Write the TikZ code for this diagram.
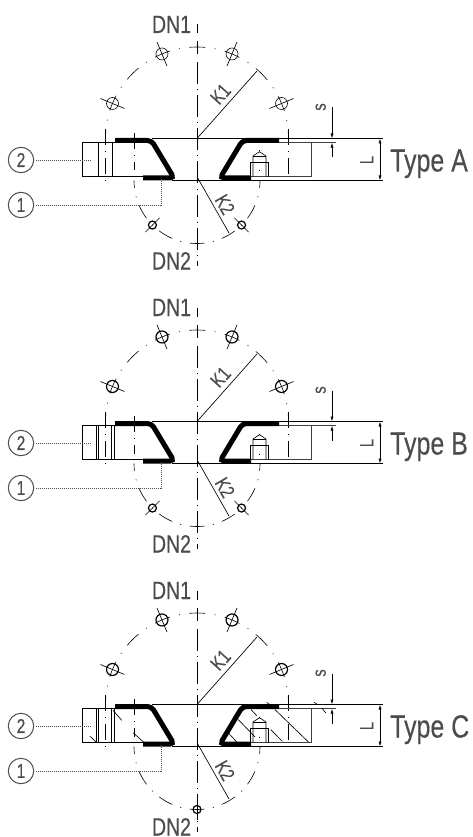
\documentclass[tikz,border=0pt]{standalone}
\usepackage{fontspec}
\setmainfont[FakeStretch=0.78,FakeBold=0.25]{Liberation Sans}
\usetikzlibrary{arrows.meta,calc}

\definecolor{textgray}{gray}{0.3}

\tikzset{
  txt/.style={inner sep=0pt, text=textgray, font=\fontsize{#1}{#1}\selectfont},
  numcircle/.style={circle, draw=textgray, line width=1pt, minimum size=25.4pt, inner sep=0pt, text=textgray, font=\fontsize{20}{20}\selectfont},
  thin line/.style={line width=0.65pt},
  profile/.style={line width=5pt, rounded corners=4pt},
  bigaxis/.style={line width=0.6pt, dash pattern=on 16pt off 9.43pt on 1pt off 9.43pt, dash phase=8pt},
  smallaxis/.style={line width=0.6pt, dash pattern=on 15pt off 8.5pt on 1pt off 8.5pt, dash phase=7.5pt},
  sideaxis/.style={line width=0.7pt, dash pattern=on 16pt off 6pt on 1pt off 6pt},
  midaxis/.style={line width=0.7pt, dash pattern=on 22pt off 5pt on 1pt off 5pt},
  leader/.style={line width=0.7pt, textgray, dash pattern=on 1pt off 1pt},
  dim/.style={line width=0.6pt, {Latex[length=5pt,width=3pt]}-{Latex[length=5pt,width=3pt]}},
  dimend/.style={line width=0.6pt, -{Latex[length=5pt,width=3pt]}},
}

\begin{document}
\begin{tikzpicture}[x=1pt, y=1pt]
  \useasboundingbox (0,0) rectangle (473,-837);

  \foreach \t/\dy/\holew/\rows/\low in {A/0/0.6/{-99,-84.3}/{225,315},
      B/283/1.2/{-101,-99,-86,-83}/{225,315},
      C/566/1.2/{-101,-99,-86,-83}/{270}} {
    \begin{scope}[shift={(197,-138.5-\dy)}]
      \coordinate (top\t) at (0,0);
      \coordinate (bot\t) at (0,-42);

      % bolt circles
      \draw[bigaxis] (91.5,0) arc[start angle=0, end angle=180, radius=91.5];
      \draw[smallaxis] ($(bot\t)+(-63,0)$) arc[start angle=180, end angle=360, radius=63];
      \draw[sideaxis] (-91.5,9.6) -- (-91.5,-44.5);
      \draw[sideaxis] (91.5,9.6) -- (91.5,-44.5);
      \draw[sideaxis] (-63,5.5) -- (-63,-32);
      \draw[line width=0.6pt, dash pattern=on 1pt off 19pt] (62.5,-12) -- (62.5,-33);
      \draw[midaxis] (0,76) -- (0,-127);
      \draw[line width=0.7pt] (0,114) -- (0,105);
      \draw[line width=0.7pt] (0,97) -- (0,84);

      \foreach \a in {22.5,67.5,112.5,157.5} {
        \draw[line width=\holew pt] (\a:91.5) circle (6);
        \draw[thin line] (\a:78.5) -- (\a:104.5);
      }
      \foreach \a in \low {
        \draw[line width=1.2pt] ($(bot\t)+(\a:63)$) circle (4);
        \draw[thin line] ($(bot\t)+(\a:53)$) -- ($(bot\t)+(\a:73)$);
      }

      % body
      \draw[thin line] (-82,-4.2) -- (-114.5,-4.2) -- (-114.5,-38.2) -- (-54,-38.2);
      \draw[thin line, black!75] (81,-4.2) -- (114,-4.2) -- (114,-38.2) -- (54,-38.2);
      \foreach \vx in \rows {
        \draw[thin line] (\vx,-4.2) -- (\vx,-38.2);
      }
      \draw[thin line] (-45,0) -- (186,0);
      \draw[thin line] (-25,-42) -- (186,-42);

      % tapered hole
      \draw[thin line] (53.7,-38.2) -- (53.7,-23.5) -- (71.7,-23.5) -- (71.7,-38.2);
      \draw[thin line] (56,-38.2) -- (56,-17.5) -- (62.5,-13.2) -- (69,-17.5) -- (69,-38.2);
      \draw[thin line] (56,-17.5) -- (69,-17.5);

      % bent profile
      \foreach \sx in {-1,1} {
        \draw[profile, xscale=\sx] (82,-2) -- (45.5,-2) -- (23,-39.5) -- (54,-39.5);
      }

      % radii
      \coordinate (k1end\t) at (60,67.5);
      \coordinate (k2end\t) at (32,-94.5);
      \draw[thin line] (top\t) -- (k1end\t);
      \draw[thin line] (0,-38.2) -- (k2end\t);
      \node[txt=20, rotate=48] (k1\t) at (23.5,44.5) {K1};
      \node[txt=20, rotate=-60] (k2\t) at (28,-66) {K2};

      % dimensions
      \coordinate (ltop\t) at (183,0);
      \coordinate (lbot\t) at (183,-42);
      \coordinate (sup\t) at (135,31);
      \coordinate (stop\t) at (135,0);
      \coordinate (sdn\t) at (135,-19);
      \coordinate (sbot\t) at (135,-4.2);
      \draw[dim] (ltop\t) -- (lbot\t);
      \draw[dimend] (sup\t) -- (stop\t);
      \draw[dimend] (sdn\t) -- (sbot\t);
      \draw[thin line, black!75] (114,-4.2) -- (139,-4.2);

      % labels
      \node[txt=25, anchor=base] (dna\t) at (-25.5,105.5) {DN1};
      \node[txt=25, anchor=base] (dnb\t) at (-25.5,-131) {DN2};
      \node[txt=19, rotate=90] (s\t) at (123.7,31.5) {s};
      \node[txt=19, rotate=90] (l\t) at (169.7,-21.5) {L};
      \node[txt=32, anchor=base west] (type\t) at (193,-33) {Type \t};

      % item numbers
      \node[numcircle] (two\t) at (-176,-21.5) {2};
      \node[numcircle] (one\t) at (-176,-66.5) {1};
      \coordinate (twotip\t) at (-105,-21.5);
      \coordinate (onetip\t) at (-36,-39.5);
      \draw[leader, shorten <=2pt] (two\t) -- (twotip\t);
      \draw[leader, shorten <=2pt] (one\t) -| (onetip\t);
    \end{scope}
  }

  % hatching of type C
  \begin{scope}[shift={(197,-704.5)}]
    \draw[thin line] (-84,-5.8) -- (-75.3,-15.8);
    \draw[thin line] (-107,-31.8) -- (-101,-37.4);
    \draw[thin line] (-63.7,-28.4) -- (-53.7,-37.4);
    \draw[thin line] (78,-5.1) -- (111.3,-37.4);
    \draw[thin line] (54,-5.1) -- (59.7,-11.1);
    \draw[thin line] (41.3,-15.1) -- (58,-32.4);
    \draw[thin line] (31.3,-28.4) -- (39.7,-37.4);
    \draw[thin line] (73.7,-25.1) -- (85.3,-36.8);
    \draw[thin line] (69.7,2.2) -- (73,-0.4);
    \draw[thin line] (117,2.2) -- (121.3,-0.4);
    \draw[thin line] (124.7,-3.4) -- (128.7,-8.4);
  \end{scope}
\end{tikzpicture}
\end{document}
